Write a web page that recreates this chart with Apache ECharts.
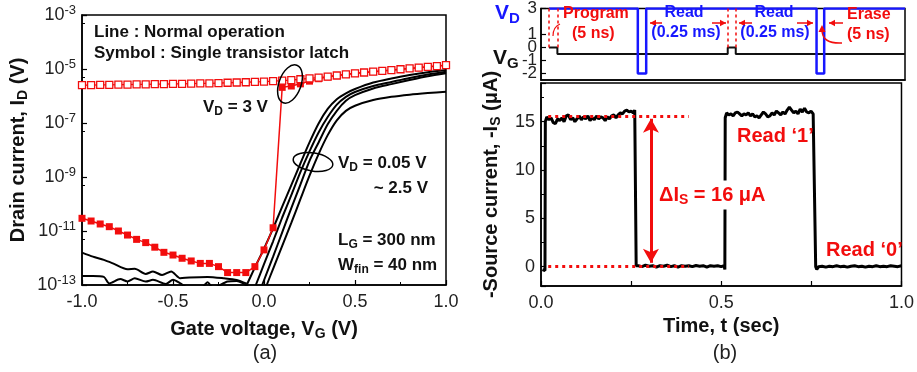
<!DOCTYPE html>
<html><head><meta charset="utf-8">
<script src="https://cdn.jsdelivr.net/npm/echarts@6/dist/echarts.min.js"></script>
<style>html,body{margin:0;padding:0;background:#fff}#c{width:917px;height:372px}</style>
</head><body><div id="c"></div>
<script>
// ---------- (a) transfer curves ----------
const gateVoltage = [-1.00,-0.95,-0.90,-0.85,-0.80,-0.75,-0.70,-0.65,-0.60,-0.55,-0.50,-0.45,-0.40,-0.35,-0.30,-0.25,-0.20,-0.15,-0.10,-0.05,0.00,0.05,0.10,0.15,0.20,0.25,0.30,0.35,0.40,0.45,0.50,0.55,0.60,0.65,0.70,0.75,0.80,0.85,0.90,0.95,1.00];
// log10(I) of open squares (latch, high state)
const latchHighLog = [-5.60,-5.60,-5.59,-5.59,-5.58,-5.58,-5.57,-5.57,-5.56,-5.56,-5.55,-5.55,-5.54,-5.53,-5.53,-5.52,-5.51,-5.50,-5.49,-5.48,-5.47,-5.45,-5.43,-5.41,-5.38,-5.35,-5.32,-5.28,-5.24,-5.20,-5.16,-5.13,-5.10,-5.07,-5.04,-5.01,-4.98,-4.95,-4.92,-4.89,-4.86];
// log10(I) of filled squares (latch, sweep up)
const latchLowLog = [-10.53,-10.63,-10.74,-10.84,-11.00,-11.15,-11.31,-11.43,-11.60,-11.79,-11.89,-12.01,-12.11,-12.20,-12.20,-12.32,-12.54,-12.54,-12.54,-12.32,-11.70,-10.88,-5.68,-5.63,-5.55,-5.45,-5.36,-5.29,-5.24,-5.20,-5.16,-5.13,-5.10,-5.07,-5.04,-5.01,-4.98,-4.95,-4.92,-4.89,-4.86];
// normal operation curves (VD = 2.5 V ... 0.05 V)
const normal1VG  = [-0.095,-0.05,0.00,0.05,0.10,0.15,0.20,0.25,0.30,0.35,0.40,0.45,0.50,0.60,0.70,0.80,0.90,1.00];
const normal1Log = [-13.0,-12.35,-11.65,-10.90,-10.10,-9.30,-8.50,-7.72,-7.02,-6.48,-6.12,-5.90,-5.74,-5.50,-5.35,-5.22,-5.12,-5.04];
const normal2VG  = [-0.045,0.00,0.05,0.10,0.15,0.20,0.25,0.30,0.35,0.40,0.45,0.50,0.60,0.70,0.80,0.90,1.00];
const normal2Log = [-13.0,-12.23,-11.38,-10.50,-9.67,-8.82,-8.05,-7.35,-6.78,-6.32,-6.03,-5.85,-5.63,-5.48,-5.33,-5.20,-5.10];
const normal3VG  = [-0.010,0.05,0.10,0.15,0.20,0.25,0.30,0.35,0.40,0.45,0.50,0.60,0.70,0.80,0.90,1.00];
const normal3Log = [-13.0,-11.95,-11.05,-10.15,-9.28,-8.40,-7.72,-7.05,-6.55,-6.18,-5.97,-5.72,-5.56,-5.41,-5.27,-5.16];
const normal4VG  = [0.015,0.05,0.10,0.15,0.20,0.25,0.30,0.35,0.40,0.45,0.50,0.60,0.70,0.80,0.90,1.00];
const normal4Log = [-13.0,-12.40,-11.55,-10.70,-9.82,-8.95,-8.15,-7.45,-6.90,-6.55,-6.36,-6.15,-6.03,-5.95,-5.89,-5.84];
const leakAVG  = [-1.00,-0.94,-0.88,-0.83,-0.75,-0.71,-0.65,-0.61,-0.56,-0.51,-0.46,-0.41,-0.31,-0.22,-0.15,-0.095];
const leakALog = [-11.80,-11.95,-12.07,-12.20,-12.42,-12.40,-12.59,-12.50,-12.63,-12.50,-12.75,-12.72,-12.70,-12.75,-12.81,-12.95];
const leakBVG  = [-1.00,-0.94,-0.88,-0.85,-0.79,-0.75,-0.71,-0.65,-0.61,-0.54,-0.50,-0.46,-0.42,-0.35,-0.31,-0.28,-0.20,-0.15,-0.12,-0.08];
const leakBLog = [-12.67,-12.67,-12.70,-12.94,-12.78,-12.87,-12.75,-12.87,-12.81,-12.96,-12.81,-12.94,-13.10,-13.15,-12.90,-13.10,-12.87,-12.85,-12.92,-13.10];
const logTickExponents = [-13,-11,-9,-7,-5,-3];

// ---------- (b) transient ----------
const vdTime  = [0.022,0.266,0.266,0.289,0.289,0.757,0.757,0.778,0.778,1.000];
const vdLevel = [3,3,-2,-2,3,3,-2,-2,3,3];
const vgTime  = [0.022,0.045,0.045,0.513,0.513,0.535,0.535,1.000];
const vgLevel = [0,0,-0.5,-0.5,0,0,-0.5,-0.5];
const pulseMarkTimes = [0.022,0.045,0.512,0.535];
const timeS = [0.004,0.008,0.011,0.012,0.016,0.022,0.028,0.034,0.040,0.046,0.052,0.058,0.064,0.070,0.076,0.082,0.088,0.094,0.100,0.106,0.112,0.118,0.124,0.130,0.136,0.142,0.148,0.154,0.160,0.166,0.172,0.178,0.184,0.190,0.196,0.202,0.208,0.214,0.220,0.226,0.232,0.238,0.244,0.250,0.256,0.260,0.263,0.264,0.270,0.280,0.290,0.300,0.310,0.320,0.330,0.340,0.350,0.360,0.370,0.380,0.390,0.400,0.410,0.420,0.430,0.440,0.450,0.460,0.470,0.480,0.490,0.500,0.508,0.510,0.511,0.515,0.521,0.527,0.533,0.539,0.545,0.551,0.557,0.563,0.569,0.575,0.581,0.587,0.593,0.599,0.605,0.611,0.617,0.623,0.629,0.635,0.641,0.647,0.653,0.659,0.665,0.671,0.677,0.683,0.689,0.695,0.701,0.707,0.713,0.719,0.725,0.731,0.737,0.743,0.749,0.755,0.760,0.762,0.765,0.770,0.780,0.790,0.800,0.810,0.820,0.830,0.840,0.850,0.860,0.870,0.880,0.890,0.900,0.910,0.920,0.930,0.940,0.950,0.960,0.970,0.980,0.990,1.000];
const sourceCurrent = [-0.3,-0.5,-0.4,15.0,15.5,15.2,15.4,14.9,14.8,15.3,15.1,15.4,15.0,15.6,15.7,15.2,15.4,15.0,15.3,15.6,15.2,15.5,15.3,15.6,15.1,15.4,15.2,15.6,15.3,15.5,15.4,15.1,15.5,15.3,15.6,15.7,15.4,15.7,15.9,15.8,16.1,16.2,16.0,16.1,15.9,16.2,16.0,0.1,0.1,0.0,0.15,0.05,0.1,-0.05,0.1,0.05,0.15,0.0,0.1,-0.05,0.1,0.05,0.1,0.0,0.12,0.05,0.1,-0.05,0.1,0.05,0.1,0.0,0.1,-0.3,15.4,15.9,15.7,15.8,15.6,15.9,16.0,15.8,15.6,15.8,15.7,15.9,15.6,15.8,15.5,15.6,15.4,15.7,16.0,15.8,15.5,15.6,15.9,15.7,16.1,15.9,15.7,16.0,15.8,16.2,16.5,16.2,15.9,16.1,15.8,16.3,16.0,16.4,16.0,15.9,16.1,15.8,15.9,0.0,-0.3,0.0,0.05,-0.05,0.05,0.0,0.1,0.0,0.05,-0.05,0.05,0.1,0.0,0.05,-0.05,0.05,0.0,0.1,0.0,0.05,0.0,0.1,0.05,0.0,0.1,0.05];
const read1Level = 15.6, read0Level = 0, dottedEnd = 0.41, dottedStart = 0.02, deltaArrowTime = 0.305;

const RED = '#f20d0d', BLUE = '#1717ff', FONT = 'Liberation Sans';
const zip = (a, b, f) => a.map((v, i) => [v, f ? f(b[i]) : b[i]]);
const p10 = v => Math.pow(10, v);

const chart = echarts.init(document.getElementById('c'), null, {renderer: 'canvas'});
const tickLbl = {color: '#222', fontFamily: FONT, fontSize: 18};
const axisLine = {show: true, onZero: false, lineStyle: {color: '#000', width: 1.5}};
const tickIn = {show: true, inside: true, length: 5, lineStyle: {color: '#000', width: 1.2}};
const minorIn = {show: true, splitNumber: 2, length: 3, lineStyle: {color: '#000', width: 1}};
const nameStyle = {fontFamily: FONT, fontSize: 20, fontWeight: 'bold', color: '#111',
  rich: {n: {fontFamily: FONT, fontSize: 20, fontWeight: 'bold', color: '#111'},
         s: {fontFamily: FONT, fontSize: 14, fontWeight: 'bold', color: '#111', padding: [10, 0, 0, 0]}}};

function arrow(x1, y1, x2, y2, color, w, head) {
  const a = Math.atan2(y2 - y1, x2 - x1), h = head || 6;
  const p1 = [x2 - h * Math.cos(a) + h * 0.55 * Math.sin(a), y2 - h * Math.sin(a) - h * 0.55 * Math.cos(a)];
  const p2 = [x2 - h * Math.cos(a) - h * 0.55 * Math.sin(a), y2 - h * Math.sin(a) + h * 0.55 * Math.cos(a)];
  return [{type: 'line', shape: {x1, y1, x2, y2}, style: {stroke: color, lineWidth: w}, z: 50},
          {type: 'polygon', shape: {points: [[x2, y2], p1, p2]}, style: {fill: color}, z: 50}];
}
function txt(x, y, text, size, color, align, rich, bg) {
  const o = {type: 'text', x, y, z: 60, style: {text, font: 'bold ' + size + 'px ' + FONT, fill: color, align: align || 'left', verticalAlign: 'middle'}};
  if (rich) o.style.rich = rich;
  if (bg) { o.style.backgroundColor = bg; o.style.padding = [2, 2, 2, 2]; }
  return o;
}
function subRich(size, color) {
  return {b: {font: 'bold ' + size + 'px ' + FONT, fill: color},
          s: {font: 'bold ' + Math.round(size * 0.72) + 'px ' + FONT, fill: color, padding: [Math.round(size * 0.55), 0, 0, 0]}};
}

const graphics = [
  txt(94, 32, 'Line : Normal operation', 17, '#111'),
  txt(94, 53, 'Symbol : Single transistor latch', 17, '#111'),
  txt(203, 107, '{b|V}{s|D}{b| = 3 V}', 17, '#111', 'left', subRich(17, '#111')),
  txt(338, 163, '{b|V}{s|D}{b| = 0.05 V}', 17, '#111', 'left', subRich(17, '#111')),
  txt(428, 188, '~ 2.5 V', 17, '#111', 'right'),
  txt(338, 240, '{b|L}{s|G}{b| = 300 nm}', 17, '#111', 'left', subRich(17, '#111')),
  txt(338, 265, '{b|W}{s|fin}{b| = 40 nm}', 17, '#111', 'left', subRich(17, '#111')),
  {type: 'ellipse', x: 290, y: 84, rotation: -0.35, shape: {cx: 0, cy: 0, rx: 11, ry: 20}, style: {fill: 'none', stroke: '#000', lineWidth: 1.5}, z: 55},
  {type: 'ellipse', x: 313, y: 162, rotation: -0.15, shape: {cx: 0, cy: 0, rx: 20, ry: 9}, style: {fill: 'none', stroke: '#000', lineWidth: 1.5}, z: 55},
  {type: 'text', x: 265, y: 353, style: {text: '(a)', font: '20px ' + FONT, fill: '#222', align: 'center', verticalAlign: 'middle'}},
  {type: 'text', x: 725, y: 353, style: {text: '(b)', font: '20px ' + FONT, fill: '#222', align: 'center', verticalAlign: 'middle'}},
  txt(495, 13, '{b|V}{s|D}', 21, BLUE, 'left', subRich(21, BLUE)),
  txt(493, 58, '{b|V}{s|G}', 21, '#111', 'left', subRich(21, '#111')),
  txt(563, 14, 'Program', 16, RED),
  txt(572, 34, '(5 ns)', 16, RED),
  txt(684, 13, 'Read', 16, BLUE, 'center'),
  txt(686, 33, '(0.25 ms)', 16, BLUE, 'center'),
  txt(774, 13, 'Read', 16, BLUE, 'center'),
  txt(775, 33, '(0.25 ms)', 16, BLUE, 'center'),
  txt(847, 15, 'Erase', 16, RED),
  txt(847, 35, '(5 ns)', 16, RED),
  ...arrow(662, 23, 650, 23, RED, 1.5, 6),
  ...arrow(712, 23, 726, 23, RED, 1.5, 6),
  ...arrow(752, 23, 739, 23, RED, 1.5, 6),
  ...arrow(797, 23, 813, 23, RED, 1.5, 6),
  ...arrow(843, 23, 829, 23, RED, 1.5, 6),
  {type: 'bezierCurve', shape: {x1: 842, y1: 43, x2: 822, y2: 30, cpx1: 822, cpy1: 44}, style: {stroke: RED, lineWidth: 1.5, fill: 'none'}, z: 50},
  {type: 'polygon', shape: {points: [[822, 25], [818.5, 32], [825.5, 32]]}, style: {fill: RED}, z: 50},
  {type: 'bezierCurve', shape: {x1: 560, y1: 24, x2: 553, y2: 36, cpx1: 553, cpy1: 27}, style: {stroke: RED, lineWidth: 1.2, fill: 'none'}, z: 50},
  txt(657, 195, '{b|ΔI}{s|S}{b| = 16 μA}', 20, RED, 'left', subRich(20, RED), '#fff'),
  txt(737, 136, 'Read ‘1’', 20, RED),
  txt(826, 250, 'Read ‘0’', 20, RED)
];

const option = {
  animation: false,
  backgroundColor: '#fff',
  grid: [
    {left: 82, top: 15, width: 364, height: 270, show: true, borderColor: '#000', borderWidth: 1.5, backgroundColor: 'transparent'},
    {left: 541, top: 1, width: 364, height: 79, show: true, borderColor: '#000', borderWidth: 1.5, backgroundColor: 'transparent'},
    {left: 541, top: 83, width: 364, height: 203, show: true, borderColor: '#000', borderWidth: 1.5, backgroundColor: 'transparent'}
  ],
  xAxis: [
    {gridIndex: 0, type: 'value', min: -1, max: 1, interval: 0.5, axisLine, axisTick: tickIn, minorTick: minorIn, splitLine: {show: false},
     axisLabel: Object.assign({margin: 8, formatter: v => v.toFixed(1)}, tickLbl),
     name: 'Gate voltage, {n|V}{s|G}{n| (V)}', nameLocation: 'middle', nameGap: 32, nameTextStyle: nameStyle},
    {gridIndex: 1, type: 'value', min: 0, max: 1, interval: 0.25, axisLine, axisTick: {show: false}, axisLabel: {show: false}, splitLine: {show: false}},
    {gridIndex: 2, type: 'value', min: 0, max: 1, interval: 0.25, axisLine, axisTick: tickIn, splitLine: {show: false},
     axisLabel: Object.assign({margin: 8, formatter: v => (Math.abs(v * 2 - Math.round(v * 2)) < 1e-9 ? v.toFixed(1) : '')}, tickLbl),
     name: 'Time, t (sec)', nameLocation: 'middle', nameGap: 30, nameTextStyle: nameStyle}
  ],
  yAxis: [
    {gridIndex: 0, type: 'log', logBase: 10, min: p10(logTickExponents[0]), max: p10(logTickExponents[logTickExponents.length - 1]), interval: 2,
     axisLine, axisTick: tickIn, minorTick: minorIn, splitLine: {show: false},
     axisLabel: Object.assign({margin: 6, formatter: v => '10{sup|' + Math.round(Math.log10(v)) + '}',
       rich: {sup: {fontFamily: FONT, fontSize: 13, color: '#222', padding: [0, 0, 10, 0]}}}, tickLbl),
     name: 'Drain current, {n|I}{s|D}{n| (V)}', nameLocation: 'middle', nameGap: 52, nameTextStyle: nameStyle},
    {gridIndex: 1, type: 'value', min: -2.5, max: 3, splitNumber: 5, axisLine, axisTick: tickIn, splitLine: {show: false},
     axisLabel: Object.assign({margin: 4, showMinLabel: false, showMaxLabel: true, hideOverlap: false, formatter: v => (Number.isInteger(v) ? String(v) : '')}, tickLbl, {fontSize: 17})},
    {gridIndex: 2, type: 'value', min: -2, max: 19, splitNumber: 4, axisLine, axisTick: tickIn, minorTick: minorIn, splitLine: {show: false},
     axisLabel: Object.assign({margin: 6, formatter: v => (v % 5 === 0 ? String(v) : '')}, tickLbl),
     name: '-Source current, {n|-I}{s|S}{n| (μA)}', nameLocation: 'middle', nameGap: 38, nameTextStyle: nameStyle}
  ],
  series: [
    ...[[normal1VG, normal1Log], [normal2VG, normal2Log], [normal3VG, normal3Log], [normal4VG, normal4Log], [leakAVG, leakALog], [leakBVG, leakBLog]].map(([x, y]) => ({
      type: 'line', xAxisIndex: 0, yAxisIndex: 0, data: zip(x, y, p10), showSymbol: false, smooth: 0.25,
      lineStyle: {color: '#000', width: 2}, clip: true, z: 2})),
    {type: 'line', xAxisIndex: 0, yAxisIndex: 0, data: zip(gateVoltage, latchHighLog, p10), symbol: 'rect', symbolSize: 7,
     lineStyle: {color: RED, width: 1.3}, itemStyle: {color: '#fff', borderColor: RED, borderWidth: 1.3}, z: 4},
    {type: 'line', xAxisIndex: 0, yAxisIndex: 0, data: zip(gateVoltage, latchLowLog, p10), symbol: 'rect', symbolSize: 7,
     lineStyle: {color: RED, width: 1.5}, itemStyle: {color: RED}, z: 3},
    {type: 'line', xAxisIndex: 1, yAxisIndex: 1, data: zip(vgTime, vgLevel), showSymbol: false, lineStyle: {color: '#111', width: 2}, z: 3,
     markLine: {silent: true, symbol: ['none', 'none'], label: {show: false}, lineStyle: {color: RED, type: [3, 3], width: 1.5},
       data: pulseMarkTimes.map(t => [{coord: [t, 0]}, {coord: [t, 3]}])}},
    {type: 'line', xAxisIndex: 1, yAxisIndex: 1, data: zip(vdTime, vdLevel), showSymbol: false, lineStyle: {color: BLUE, width: 2.5}, z: 4},
    {type: 'line', xAxisIndex: 2, yAxisIndex: 2, data: zip(timeS, sourceCurrent), showSymbol: false, lineStyle: {color: '#000', width: 3}, z: 3,
     markLine: {silent: true, label: {show: false}, animation: false,
       data: [
         [{coord: [dottedStart, read1Level], symbol: 'none', lineStyle: {color: RED, type: [3, 4], width: 3}}, {coord: [dottedEnd, read1Level], symbol: 'none'}],
         [{coord: [dottedStart, read0Level], symbol: 'none', lineStyle: {color: RED, type: [3, 4], width: 3}}, {coord: [dottedEnd, read0Level], symbol: 'none'}],
         [{coord: [deltaArrowTime, read1Level - 0.3], symbol: 'arrow', symbolSize: [12, 14], lineStyle: {color: RED, type: 'solid', width: 3}},
          {coord: [deltaArrowTime, read0Level + 0.4], symbol: 'arrow', symbolSize: [12, 14]}]
       ]}}
  ],
  graphic: graphics
};
chart.setOption(option);
</script></body></html>
